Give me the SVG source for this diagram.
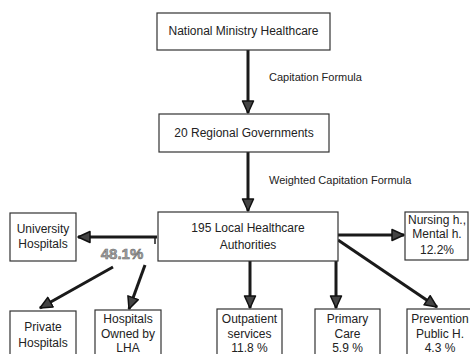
<svg xmlns="http://www.w3.org/2000/svg" width="470" height="354" viewBox="0 0 470 354">
<style>
.box{fill:#fff;stroke:#333;stroke-width:1.2}
.t{font-family:"Liberation Sans",Arial,sans-serif;font-size:12px;fill:#222;text-anchor:middle}
.lbl{font-family:"Liberation Sans",Arial,sans-serif;font-size:11px;fill:#222}
.c{stroke:#1a1a1a;stroke-width:3;fill:none}
.pct{font-family:"Liberation Sans",Arial,sans-serif;font-size:15px;font-weight:bold;fill:#a0a0a0;stroke:#666;stroke-width:0.5;text-anchor:middle}
</style>
<defs>
<marker id="ah" markerUnits="userSpaceOnUse" markerWidth="14" markerHeight="14" viewBox="0 0 14 14" refX="13" refY="7" orient="auto">
<path d="M1,1.5 L13,7 L1,12.5 Z" fill="#444" stroke="#111" stroke-width="1.5" stroke-linejoin="round"/>
</marker>
</defs>
<rect width="470" height="354" fill="#fff"/>
<g id="connectors">
<line class="c" x1="248" y1="50" x2="248" y2="113" marker-end="url(#ah)"/>
<line class="c" x1="248" y1="152" x2="248" y2="211" marker-end="url(#ah)"/>
<line class="c" x1="157" y1="237" x2="78" y2="237" marker-end="url(#ah)"/>
<line x1="155" y1="236" x2="155" y2="244" stroke="#1a1a1a" stroke-width="1.5"/>
<line class="c" x1="113" y1="267" x2="40" y2="308" marker-end="url(#ah)"/>
<line class="c" x1="145" y1="265" x2="129" y2="309" marker-end="url(#ah)"/>
<line class="c" x1="250" y1="261" x2="250" y2="308" marker-end="url(#ah)"/>
<line class="c" x1="336" y1="261" x2="336" y2="308" marker-end="url(#ah)"/>
<line class="c" x1="338" y1="235" x2="404" y2="235" marker-end="url(#ah)"/>
<line class="c" x1="338" y1="240" x2="437" y2="307" marker-end="url(#ah)"/>
<text class="lbl" x="269" y="81">Capitation Formula</text>
<text class="lbl" x="269" y="184">Weighted Capitation Formula</text>
<text class="pct" x="122" y="259">48.1%</text>
</g>
<g id="national">
<rect class="box" x="157" y="13" width="173" height="37"/>
<text class="t" x="243.5" y="35">National Ministry Healthcare</text>
</g>
<g id="regional">
<rect class="box" x="159" y="114" width="170" height="38"/>
<text class="t" x="244" y="137">20 Regional Governments</text>
</g>
<g id="local">
<rect class="box" x="158" y="212" width="180" height="49"/>
<text class="t" x="248" y="232">195 Local Healthcare</text>
<text class="t" x="248" y="249">Authorities</text>
</g>
<g id="university">
<rect class="box" x="10" y="213" width="66" height="48"/>
<text class="t" x="43" y="233">University</text>
<text class="t" x="43" y="248">Hospitals</text>
</g>
<g id="nursing">
<rect class="box" x="405" y="212" width="63" height="48"/>
<text class="t" x="437" y="224">Nursing h.,</text>
<text class="t" x="437" y="238">Mental h.</text>
<text class="t" x="437" y="254">12.2%</text>
</g>
<g id="private">
<rect class="box" x="10" y="311" width="66" height="52"/>
<text class="t" x="43" y="331">Private</text>
<text class="t" x="43" y="347">Hospitals</text>
</g>
<g id="owned">
<rect class="box" x="95" y="310" width="66" height="52"/>
<text class="t" x="128" y="323">Hospitals</text>
<text class="t" x="128" y="338">Owned by</text>
<text class="t" x="128" y="352">LHA</text>
</g>
<g id="outpatient">
<rect class="box" x="217" y="309" width="65" height="52"/>
<text class="t" x="249.5" y="323">Outpatient</text>
<text class="t" x="249.5" y="338">services</text>
<text class="t" x="249.5" y="352">11.8 %</text>
</g>
<g id="primary">
<rect class="box" x="315" y="309" width="65" height="52"/>
<text class="t" x="347.5" y="323">Primary</text>
<text class="t" x="347.5" y="338">Care</text>
<text class="t" x="347.5" y="352">5.9 %</text>
</g>
<g id="prevention">
<rect class="box" x="407" y="309" width="66" height="52"/>
<text class="t" x="440" y="323">Prevention</text>
<text class="t" x="440" y="338">Public H.</text>
<text class="t" x="440" y="352">4.3 %</text>
</g>
</svg>
